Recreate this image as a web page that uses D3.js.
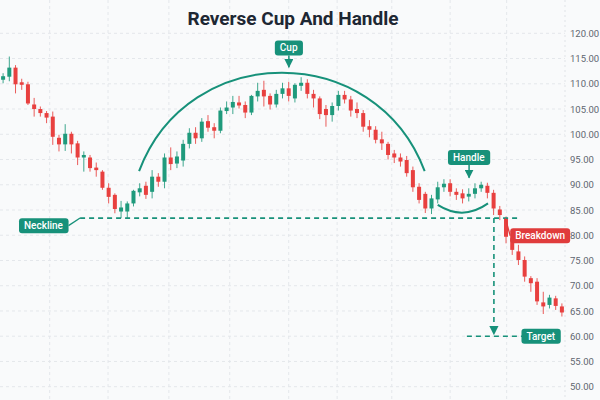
<!DOCTYPE html>
<html>
<head>
<meta charset="utf-8">
<script src="https://cdn.jsdelivr.net/npm/d3@7"></script>
<style>
  html, body { margin: 0; padding: 0; background: #f9fafb; }
  svg { display: block; font-family: Roboto, "Noto Sans", sans-serif; }
</style>
</head>
<body>
<svg id="chart" width="600" height="400"></svg>
<script>
// ---------- DATA ----------
const title = "Reverse Cup And Handle";
const openVals = [110.8,111.4,113.2,110.3,109.9,105.9,105.0,104.2,103.5,99.3,98.0,100.1,98.2,95.4,95.4,93.4,92.6,89.4,88.0,84.7,84.7,86.3,88.5,89.8,88.6,91.6,90.6,95.4,94.2,94.8,98.1,100.3,99.2,102.6,101.4,100.7,104.6,105.3,106.3,105.8,104.3,107.5,108.8,107.6,105.9,108.0,109.1,107.1,109.6,110.2,108.0,107.1,105.0,103.8,105.6,107.8,106.9,105.0,104.2,101.6,100.9,99.0,98.1,96.2,95.4,94.9,92.9,89.6,88.2,85.3,87.1,89.5,90.3,88.6,88.3,87.65,88.2,89.3,89.8,88.4,85.1,83.4,79.4,76.8,75.1,71.5,70.8,66.7,66.2,67.5,65.9];
const highVals = [112.1,115.4,113.7,111.0,110.4,107.2,105.5,104.6,104.5,99.9,102.0,100.5,98.7,96.6,95.9,94.4,92.9,90.3,88.3,86.8,86.7,89.0,90.3,90.6,92.9,92.3,96.2,97.4,96.6,98.9,101.2,101.4,103.2,103.8,102.2,105.3,106.5,107.6,107.6,106.5,107.8,110.2,110.6,108.1,108.8,110.2,110.4,110.1,111.3,110.9,108.8,107.5,105.8,106.3,108.6,108.6,107.6,106.3,104.8,102.8,101.6,100.5,98.5,96.9,96.2,95.7,93.6,90.3,88.6,88.0,90.6,91.1,91.1,89.3,89.1,89.3,90.3,90.6,90.4,89.0,85.8,83.7,80.1,78.1,75.8,71.9,71.5,68.8,68.2,68.0,66.5];
const lowVals = [110.1,110.5,108.1,108.8,105.8,103.5,103.5,102.2,97.9,96.6,96.7,96.2,93.9,92.6,92.6,91.6,89.0,86.3,84.35,83.4,83.4,85.7,87.7,87.2,87.3,89.6,89.3,92.9,93.3,93.6,97.2,98.1,98.5,100.5,99.2,100.2,104.0,104.0,105.1,103.2,103.8,106.5,105.5,104.9,105.3,107.1,106.5,106.3,108.6,107.1,105.3,103.0,101.5,102.5,104.7,106.1,103.5,103.2,100.5,99.4,98.2,96.9,95.0,94.3,93.6,91.6,88.6,86.3,84.4,84.2,86.3,88.6,87.7,87.0,86.3,86.7,87.3,88.6,87.3,84.0,83.0,78.4,76.1,74.1,70.8,68.8,66.2,64.4,65.5,65.2,63.9];
const closeVals = [111.5,113.2,109.9,109.8,106.1,105.0,104.2,103.3,99.5,98.0,100.1,98.0,95.4,95.9,93.3,92.9,89.4,87.6,85.2,85.5,86.3,88.8,89.3,88.0,91.6,90.6,95.4,94.1,95.6,98.1,100.3,99.2,102.5,101.3,100.7,104.7,105.3,106.4,105.7,104.3,107.6,108.6,107.5,105.9,108.0,109.1,107.6,109.8,110.2,108.0,107.1,104.0,103.8,105.6,107.8,106.9,104.7,104.2,101.5,100.9,98.9,98.2,95.9,95.4,94.6,92.3,89.5,87.0,85.3,87.3,89.5,90.2,88.6,88.0,87.3,88.2,89.3,90.0,88.4,85.3,84.0,79.7,77.1,75.1,71.8,70.5,66.9,65.9,67.65,66.0,64.7];
const yTicks = [50,55,60,65,70,75,80,85,90,95,100,105,110,115,120];
const vGridIdx = [7.5,16.9,26.7,36.5,46,53.8,62.6,72,81.1];

// annotation anchors (candle index, price)
const necklineLevel = 83.4, necklineFrom = 12.4, necklineTo = 83.2;
const targetLevel = 60, targetFrom = 74.7, targetTo = 84.0;
const dropIdx = 79.05;
const cupCurve = [[21.9,92.7],[29.8,118.7],[60.0,118.7],[67.9,92.7]];
const handleCurve = [[70.0,86.0],[74.1,82.8],[78.1,86.3]]; // start, control, end
const labels = [
  {text:"Cup", i:46.0, v:117.1, color:"#17917a"},
  {text:"Handle", i:75.0, v:95.4, color:"#17917a"},
  {text:"Neckline", i:6.5, v:81.9, color:"#17917a"},
  {text:"Breakdown", i:86.5, v:79.9, color:"#e03c3c"},
  {text:"Target", i:86.6, v:60.0, color:"#17917a"}
];

// ---------- CHART ----------
const W = 600, H = 400;
const GREEN = "#1f9a7c", RED = "#e8403f", TEAL = "#17917a";
const svg = d3.select("#chart");
svg.append("rect").attr("width", W).attr("height", H).attr("fill", "#f9fafb");

const n = openVals.length;
const x = d3.scaleLinear().domain([-0.5, n - 0.5]).range([0, 565]);
const y = d3.scaleLinear().domain([50, 120]).range([386.7, 33.3]);

// grid
const grid = svg.append("g");
grid.selectAll("line.h").data(yTicks).join("line")
  .attr("x1", 0).attr("x2", 565)
  .attr("y1", d => y(d)).attr("y2", d => y(d))
  .attr("stroke", "#e4e7eb").attr("stroke-width", 1).attr("stroke-dasharray", "3,3");
grid.selectAll("line.v").data(vGridIdx).join("line")
  .attr("x1", d => x(d)).attr("x2", d => x(d))
  .attr("y1", 0).attr("y2", H)
  .attr("stroke", "#e4e7eb").attr("stroke-width", 1).attr("stroke-dasharray", "3,3");
grid.append("line").attr("x1", 565).attr("x2", 565).attr("y1", 0).attr("y2", H)
  .attr("stroke", "#e0e3e7").attr("stroke-dasharray", "2,3");

// y axis
const yAxis = d3.axisRight(y).tickValues(yTicks).tickFormat(d3.format(".2f")).tickSize(0).tickPadding(5);
const ax = svg.append("g").attr("transform", "translate(565,0)").call(yAxis);
ax.select(".domain").remove();
ax.selectAll("text").attr("fill", "#5f6670").style("font-size", "9.5px").style("font-family", "Roboto, sans-serif");

// title
svg.append("text").attr("x", 293).attr("y", 25).attr("text-anchor", "middle")
  .attr("fill", "#1e2733").style("font-size", "19px").style("font-weight", 700)
  .text(title);

// candles
const data = d3.range(n).map(i => ({i, o: openVals[i], h: highVals[i], l: lowVals[i], c: closeVals[i]}));
const bw = 4;
const cg = svg.append("g");
cg.selectAll("line").data(data).join("line")
  .attr("x1", d => x(d.i)).attr("x2", d => x(d.i))
  .attr("y1", d => y(d.h)).attr("y2", d => y(d.l))
  .attr("stroke", d => d.c >= d.o ? GREEN : RED).attr("stroke-width", 1).attr("opacity", 0.85);
cg.selectAll("rect").data(data).join("rect")
  .attr("x", d => x(d.i) - bw / 2).attr("width", bw)
  .attr("y", d => y(Math.max(d.o, d.c)))
  .attr("height", d => Math.max(1.5, Math.abs(y(d.o) - y(d.c))))
  .attr("fill", d => d.c >= d.o ? GREEN : RED);

// markers
const defs = svg.append("defs");
defs.append("marker").attr("id", "arrT").attr("viewBox", "0 0 10 10").attr("refX", 9).attr("refY", 5)
  .attr("markerWidth", 6).attr("markerHeight", 6).attr("orient", "auto")
  .append("path").attr("d", "M0,0 L10,5 L0,10 Z").attr("fill", TEAL);

// neckline
svg.append("line").attr("x1", x(necklineFrom)).attr("x2", x(necklineTo))
  .attr("y1", y(necklineLevel)).attr("y2", y(necklineLevel))
  .attr("stroke", TEAL).attr("stroke-width", 1.6).attr("stroke-dasharray", "5,4");
// target line
svg.append("line").attr("x1", x(targetFrom)).attr("x2", x(targetTo))
  .attr("y1", y(targetLevel)).attr("y2", y(targetLevel))
  .attr("stroke", TEAL).attr("stroke-width", 1.6).attr("stroke-dasharray", "5,4");
// drop line
svg.append("line").attr("x1", x(dropIdx)).attr("x2", x(dropIdx))
  .attr("y1", y(necklineLevel)).attr("y2", y(targetLevel) - 2)
  .attr("stroke", TEAL).attr("stroke-width", 1.6).attr("stroke-dasharray", "5,4")
  .attr("marker-end", "url(#arrT)");

// cup curve
const cp = cupCurve.map(p => [x(p[0]), y(p[1])]);
const cupPath = d3.path();
cupPath.moveTo(cp[0][0], cp[0][1]);
cupPath.bezierCurveTo(cp[1][0], cp[1][1], cp[2][0], cp[2][1], cp[3][0], cp[3][1]);
svg.append("path").attr("d", cupPath.toString()).attr("fill", "none").attr("stroke", TEAL).attr("stroke-width", 2);

// handle curve (quadratic)
const hp = handleCurve.map(p => [x(p[0]), y(p[1])]);
const hPath = d3.path();
hPath.moveTo(hp[0][0], hp[0][1]);
hPath.quadraticCurveTo(hp[1][0], hp[1][1], hp[2][0], hp[2][1]);
svg.append("path").attr("d", hPath.toString()).attr("fill", "none").attr("stroke", TEAL).attr("stroke-width", 2);

// labels
const boxes = {};
labels.forEach(l => {
  const g = svg.append("g");
  const t = g.append("text").attr("x", x(l.i)).attr("y", y(l.v)).attr("text-anchor", "middle")
    .attr("dominant-baseline", "central").attr("fill", "#fff")
    .style("font-size", "10px").style("font-weight", 500).text(l.text);
  const bb = t.node().getBBox();
  const bx = {x: bb.x - 5, y: y(l.v) - 7.5, w: bb.width + 10, h: 15};
  g.insert("rect", "text").attr("x", bx.x).attr("y", bx.y).attr("width", bx.w).attr("height", bx.h)
    .attr("rx", 3).attr("fill", l.color);
  boxes[l.text] = bx;
});

// cup arrow
const cupB = boxes["Cup"];
svg.append("line").attr("x1", cupB.x + cupB.w / 2).attr("x2", cupB.x + cupB.w / 2)
  .attr("y1", cupB.y + cupB.h).attr("y2", y(113.3))
  .attr("stroke", TEAL).attr("stroke-width", 1.5).attr("marker-end", "url(#arrT)");
// handle arrow
const hB = boxes["Handle"];
svg.append("line").attr("x1", hB.x + hB.w / 2).attr("x2", hB.x + hB.w / 2)
  .attr("y1", hB.y + hB.h).attr("y2", y(91.4))
  .attr("stroke", TEAL).attr("stroke-width", 1.5).attr("marker-end", "url(#arrT)");
// neckline leader
const nB = boxes["Neckline"];
svg.append("line").attr("x1", nB.x + nB.w).attr("y1", nB.y + nB.h / 2)
  .attr("x2", x(necklineFrom)).attr("y2", y(necklineLevel))
  .attr("stroke", TEAL).attr("stroke-width", 1.3);
// breakdown leader
const bB = boxes["Breakdown"];
svg.append("line").attr("x1", x(80.9)).attr("y1", y(necklineLevel))
  .attr("x2", bB.x).attr("y2", bB.y + bB.h / 2)
  .attr("stroke", "#e03c3c").attr("stroke-width", 1.3);
</script>
</body>
</html>
